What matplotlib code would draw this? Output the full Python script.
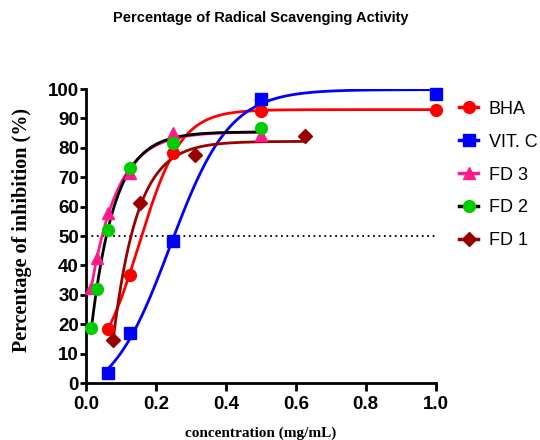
import numpy as np
import matplotlib
matplotlib.use("Agg")
import matplotlib.pyplot as plt

# concentrations (mg/mL)
conc_std = [0.0625, 0.125, 0.25, 0.5, 1.0]
conc_fd = [0.015625, 0.03125, 0.0625, 0.125, 0.25, 0.5]
conc_fd1 = [0.078, 0.156, 0.3125, 0.625]

# % inhibition
bha = [18.3, 36.9, 78.2, 92.7, 93.0]
vitc = [3.4, 17.0, 48.2, 96.8, 98.4]
fd3 = [32.2, 42.4, 57.7, 71.3, 84.9, 84.4]
fd2 = [18.6, 32.0, 52.0, 73.0, 81.7, 86.6]
fd1 = [14.6, 61.1, 77.5, 84.1]

SANS = ["Liberation Sans", "DejaVu Sans"]
SERIF = ["Liberation Serif", "DejaVu Serif"]


def sigmoid_fit(x, y):
    # boltzmann sigmoid, grid over midpoint / steepness, bottom+top by least squares
    x = np.asarray(x, float)
    y = np.asarray(y, float)
    x50 = np.linspace(-0.3, 0.8, 400)[:, None, None]
    k = np.logspace(0.3, 2.6, 300)[None, :, None]
    s = 1.0 / (1.0 + np.exp(k * (x50 - x)))
    sm = s.mean(-1, keepdims=True)
    ym = y.mean()
    cov = ((s - sm) * (y - ym)).sum(-1)
    var = ((s - sm) ** 2).sum(-1) + 1e-12
    span = cov / var
    bottom = ym - span * sm[..., 0]
    res = ((bottom[..., None] + span[..., None] * s - y) ** 2).sum(-1)
    i, j = np.unravel_index(np.argmin(res), res.shape)
    return bottom[i, j], span[i, j], x50[i, 0, 0], k[0, j, 0]


def curve(x, y):
    b, sp, x50, k = sigmoid_fit(x, y)
    xs = np.linspace(min(x), max(x), 300)
    return xs, b + sp / (1.0 + np.exp(k * (x50 - xs)))


series = [
    ("BHA", conc_std, bha, "o", "#ff0000", "#ff0000", 8.5),
    ("VIT. C", conc_std, vitc, "s", "#0000ff", "#0000ff", 8),
    ("FD 3", conc_fd, fd3, "^", "#ff1a8c", "#ff1a8c", 9),
    ("FD 2", conc_fd, fd2, "o", "#000000", "#00cc00", 8.5),
    ("FD 1", conc_fd1, fd1, "D", "#990000", "#990000", 7.5),
]

fig = plt.figure(figsize=(5.4, 4.4), dpi=100)
ax = fig.add_axes([0.159, 0.1295, 0.648, 0.668])

ax.plot([0, 1.0], [50, 50], color="black", lw=1.3, ls=(0, (1, 2)))

for name, x, y, mk, lc, mc, ms in series:
    xs, ys = curve(x, y)
    ax.plot(xs, ys, color=lc, lw=2, zorder=3)
    ax.plot(x, y, ls="none", marker=mk, ms=ms, color=mc, zorder=4, clip_on=False)
    ax.plot([], [], color=lc, lw=2.5, marker=mk, ms=ms, mfc=mc, mec=mc, label=name)

ax.set_xlim(0, 1.0)
ax.set_ylim(0, 100)
ax.set_xticks(np.arange(0, 1.01, 0.2))
ax.set_yticks(np.arange(0, 101, 10))
ax.set_xticklabels([f"{v:.1f}" for v in np.arange(0, 1.01, 0.2)])

for side in ["top", "right"]:
    ax.spines[side].set_visible(False)
for side in ["left", "bottom"]:
    ax.spines[side].set_linewidth(2)
ax.tick_params(axis="x", width=2, length=6, direction="out", pad=3)
ax.tick_params(axis="y", width=2, length=4, direction="out", pad=1)
for lab in ax.get_xticklabels() + ax.get_yticklabels():
    lab.set_family(SANS)
    lab.set_fontweight("bold")
    lab.set_fontsize(13.5)

ax.set_xlabel("concentration (mg/mL)", family=SERIF, fontweight="bold",
              fontsize=11, labelpad=10)
ax.set_ylabel("Percentage of inhibition (%)", family=SERIF, fontweight="bold",
              fontsize=14.5)
ax.yaxis.set_label_coords(-0.155, 0.522)

fig.suptitle("Percentage of Radical Scavenging Activity", x=0.483, y=0.975,
             family=SANS, fontweight="bold", fontsize=10.5)

leg = ax.legend(loc="upper left", bbox_to_anchor=(1.046, 0.985), frameon=False,
                prop={"family": SANS, "size": 13}, handlelength=1.05,
                handletextpad=0.6, labelspacing=0.88, borderaxespad=0)

fig.savefig("out.png", dpi=100)
